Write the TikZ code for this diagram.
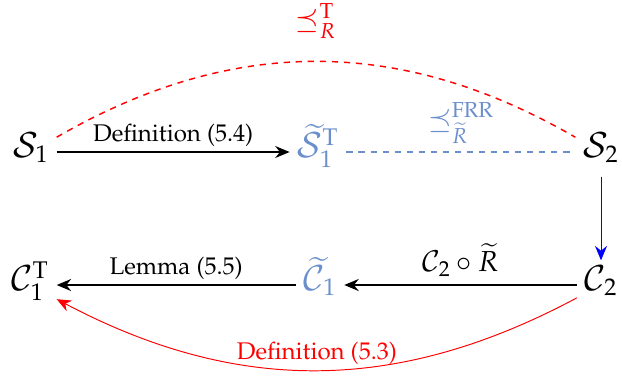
\documentclass[tikz,border=0pt]{standalone}
\usepackage[T1]{fontenc}
\usepackage{mathpazo}
\usetikzlibrary{arrows.meta, positioning}
\definecolor{cSoft}{rgb}{0.42,0.56,0.80}
\tikzset{
  obj/.style={font=\Large, inner sep=3pt, text height=2ex, text depth=1ex},
  lbl/.style={font=\normalsize, inner sep=2pt},
  arw/.style={-{Stealth[length=6pt, width=5pt, inset=2pt]}, semithick, color=#1},
  arw/.default=black,
  dsh/.style={dash pattern=on 2.6pt off 2.4pt, semithick, color=#1},
}
\begin{document}
\begin{tikzpicture}[x=0.415pt, y=-0.415pt]
  \useasboundingbox (0,0) rectangle (622,377);

  % objects
  \node[obj] (s1) at (31,152) {$\mathcal{S}_1$};
  \node[obj, text=cSoft] (s1t) at (318,152) {$\widetilde{\mathcal{S}}_1^{\mathrm{T}}$};
  \node[obj] (s2) at (601,152) {$\mathcal{S}_2$};
  \node[obj] (c1t) at (30,285) {$\mathcal{C}_1^{\mathrm{T}}$};
  \node[obj, text=cSoft] (c1) at (320,285) {$\widetilde{\mathcal{C}}_1$};
  \node[obj] (c2) at (601,285) {$\mathcal{C}_2$};

  % top row
  \draw[arw] (s1) -- node[lbl, above] {Definition (5.4)} (s1t);
  \draw[dsh=cSoft] (s1t) -- node[above, font=\large, text=cSoft] {$\preceq_{\widetilde{R}}^{\mathrm{FRR}}$} (s2);
  \draw[dsh=red] (s1) to[bend left=30] node[above=6pt, font=\large, text=red] {$\preceq_R^{\mathrm{T}}$} (s2);

  % down and back
  \draw[arw=blue, thin] (s2) -- (c2);
  \draw[arw] (c2) -- node[above, font=\large] {$\mathcal{C}_2\circ\widetilde{R}$} (c1);
  \draw[arw] (c1) -- node[lbl, above] {Lemma (5.5)} (c1t);
  \draw[arw=red, thin] (c2) to[bend left=28] node[lbl, above, text=red] {Definition (5.3)} (c1t);
\end{tikzpicture}
\end{document}
